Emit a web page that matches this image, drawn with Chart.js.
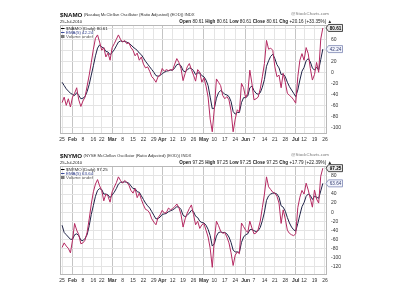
<!DOCTYPE html>
<html><head><meta charset="utf-8">
<script src="https://cdn.jsdelivr.net/npm/chart.js@4.4.0/dist/chart.umd.min.js"></script>
<style>
html,body{margin:0;padding:0;background:#fff;width:400px;height:300px;overflow:hidden}
canvas{position:absolute;left:0}
#c1{top:0}#c2{top:148px}
</style></head><body>
<canvas id="c1" width="400" height="148"></canvas>
<canvas id="c2" width="400" height="152"></canvas>
<script>
// trading-day index (0 = 25-Jan-2010) of each week label
const tickIdx    = [0,5,10,15,19,24,29,34,39,44,48,53,58,63,68,73,78,83,88,92,97,102,107,112,116,121,126];
const tickLabels = ['25','Feb','8','16','22','Mar','8','15','22','29','Apr','12','19','26','May','10','17','24','Jun','7','14','21','28','Jul','12','19','26'];
const monthLabels = ['Feb','Mar','Apr','May','Jun','Jul'];

const namoTicks = [-100,-80,-60,-40,-20,0,20,40,60,80];
const nymoTicks = [-120,-100,-80,-60,-40,-20,0,20,40,60,80];

// $NAMO daily values (one per trading day from 25-Jan-2010)
const namoDaily = [-55,-45,-60,-48,-63,-45,-38,-28,-50,-62,-52,-45,-25,-5,18,42,62,68,55,40,
45,28,35,22,45,52,60,68,60,55,58,52,54,45,40,30,35,22,28,15,
8,10,2,-8,-12,-18,-8,-5,7,2,5,3,5,4,15,25,18,7,-15,-2,
10,16,5,-5,-16,5,0,-18,-10,-25,-45,-85,-108,-65,-12,-18,-24,-42,-48,-44,
-50,-70,-108,-85,-68,-72,-20,-28,-46,-38,4,-20,-50,-48,-45,-30,-8,16,58,42,
44,40,10,-8,-5,-28,-2,-18,-38,-42,-45,-50,-56,-8,22,34,22,45,34,7,
-14,-4,18,0,60.45,80.61];
// $NAMO EMA(5)
const namoEma = [-18,-24,-30,-34,-38,-40,-42,-37,-42,-48,-47,-44,-35,-22,-5,12,30,44,50,46,
44,38,37,32,36,41,48,55,57,56,56,55,53,50,46,43,40,35,32,26,
20,15,10,5,0,-6,-7,-6,-2,0,2,3,4,4,8,14,15,12,3,1,
4,8,7,3,-4,-1,-1,-6,-8,-14,-24,-45,-66,-65,-47,-37,-33,-36,-40,-41,
-44,-53,-71,-76,-73,-73,-55,-46,-46,-43,-28,-25,-33,-38,-40,-37,-27,-13,11,21,
29,33,25,14,8,-4,-3,-8,-18,-26,-32,-38,-44,-32,-14,2,9,21,25,19,
8,4,9,4.35,23.05,42.24];

// $NYMO daily values
const nymoDaily = [-78,-68,-75,-80,-90,-62,-25,-40,-50,-70,-68,-62,-45,-15,18,45,62,72,58,48,
25,40,35,22,45,55,65,78,70,64,70,66,60,48,42,52,32,42,28,16,
6,4,-2,-15,-22,-28,-12,-6,4,-2,-1,9,5,8,12,18,10,-5,-33,-15,
-2,8,16,-5,-28,-20,-36,-28,-25,-40,-55,-80,-122,-60,-20,-30,-42,-47,-45,-55,
-68,-90,-118,-95,-88,-92,-24,-32,-40,-45,-20,-35,-48,-46,-38,-20,10,40,78,56,
50,44,42,35,20,-25,5,-15,-40,-47,-50,-52,-48,10,33,48,40,64,49,30,
11,49,29,20,79.46,97.25];
// $NYMO EMA(5)
const nymoEma = [-29,-45,-50,-55,-60,-60,-50,-48,-52,-62,-63,-58,-50,-30,-5,15,35,48,52,50,
40,40,38,32,38,44,52,62,66,66,67,66,64,58,52,52,45,44,36,28,
20,14,9,1,-7,-15,-14,-11,-5,-4,-3,1,3,5,8,12,11,6,-7,-10,
-7,-2,4,1,-9,-12,-20,-23,-24,-29,-38,-52,-75,-70,-53,-45,-44,-45,-45,-48,
-55,-67,-84,-88,-88,-89,-67,-55,-50,-48,-39,-38,-41,-43,-41,-34,-19,0,26,36,
40,42,42,40,33,14,11,2,-12,-24,-33,-39,-42,-25,-6,12,21,35,40,37,
28,35,33,30.53,46.84,63.64];

const RAW_COLOR = '#b52a62';
const MA_COLOR = '#1f2347';
const FONT = '"Liberation Sans", Arial, sans-serif';

function headerPlugin(cfg){
  return {
    id:'hdr'+cfg.id,
    beforeDatasetsDraw(chart){
      const ctx=chart.ctx, ca=chart.chartArea;
      ctx.save();
      ctx.strokeStyle='#b8b8b8'; ctx.lineWidth=1;
      ctx.strokeRect(ca.left+0.5, ca.top+0.5, ca.right-ca.left-1, ca.bottom-ca.top-1);
      ctx.restore();
    },
    afterDraw(chart){
      const ctx=chart.ctx, ca=chart.chartArea, ys=chart.scales.y;
      ctx.save();
      ctx.textBaseline='middle';
      // title
      let y=ca.top-10;
      ctx.fillStyle='#111'; ctx.textAlign='left';
      ctx.font='bold 6.2px '+FONT;
      ctx.fillText(cfg.symbol, 60, y);
      let w=ctx.measureText(cfg.symbol).width;
      ctx.font='4.2px '+FONT; ctx.fillStyle='#333';
      ctx.fillText(cfg.name, 60+w+1.5, y+0.3);
      ctx.font='4.4px '+FONT; ctx.fillStyle='#777'; ctx.textAlign='right';
      ctx.fillText('@StockCharts.com', 329, y-1);
      // date + OHLC
      y=ca.top-3.5;
      ctx.textAlign='left'; ctx.fillStyle='#222'; ctx.font='4.2px '+FONT;
      ctx.fillText(cfg.date, 60, y);
      const segs=[];
      cfg.ohlc.forEach(p=>{segs.push([p[0]+' ','bold']);segs.push([p[1]+' ','normal']);});
      segs.push(['\u25B2','normal']);
      let tot=0;
      segs.forEach(s=>{ctx.font=s[1]+' 4.6px '+FONT; tot+=ctx.measureText(s[0]).width;});
      let x=332-tot;
      segs.forEach(s=>{ctx.font=s[1]+' 4.6px '+FONT; ctx.fillText(s[0],x,y); x+=ctx.measureText(s[0]).width;});
      // legend
      const lx=61;
      ctx.lineWidth=1;
      ctx.strokeStyle='#000'; ctx.beginPath(); ctx.moveTo(lx,ca.top+3.5); ctx.lineTo(lx+3.5,ca.top+3.5); ctx.stroke();
      ctx.fillStyle='#222'; ctx.font='4.4px '+FONT;
      ctx.fillText(cfg.rawLabel+' '+cfg.raw[cfg.raw.length-1].toFixed(2), lx+5, ca.top+3.5);
      ctx.strokeStyle='#3a4a9a'; ctx.beginPath(); ctx.moveTo(lx,ca.top+7.5); ctx.lineTo(lx+3.5,ca.top+7.5); ctx.stroke();
      ctx.fillStyle='#2a3a8a';
      ctx.fillText(cfg.maLabel+' '+cfg.ma[cfg.ma.length-1].toFixed(2), lx+5, ca.top+7.5);
      ctx.fillStyle='#777'; ctx.fillRect(lx, ca.top+10, 3.5, 3);
      ctx.fillStyle='#555';
      ctx.fillText('Volume undef', lx+5, ca.top+11.5);
      // value tags
      const tag=(val,fill,stroke,col,weight)=>{
        const py=ys.getPixelForValue(val);
        ctx.beginPath();
        ctx.moveTo(326,py); ctx.lineTo(328.5,py-3.5); ctx.lineTo(342.5,py-3.5);
        ctx.lineTo(342.5,py+3.5); ctx.lineTo(328.5,py+3.5); ctx.closePath();
        ctx.fillStyle=fill; ctx.fill(); ctx.strokeStyle=stroke; ctx.lineWidth=0.8; ctx.stroke();
        ctx.fillStyle=col; ctx.font=weight+' 4.6px '+FONT; ctx.textAlign='center';
        ctx.fillText(val.toFixed(2), 335.5, py+0.3);
        ctx.textAlign='left';
      };
      tag(cfg.ma[cfg.ma.length-1], '#f3f5fc', '#7d88b5', '#3a4478', 'normal');
      tag(cfg.raw[cfg.raw.length-1], '#e9e9e9', '#222', '#000', 'bold');
      ctx.restore();
    }
  };
}

function makeChart(cfg){
  const lastR=cfg.raw[cfg.raw.length-1], lastM=cfg.ma[cfg.ma.length-1];
  return new Chart(document.getElementById(cfg.id), {
    type:'line',
    data:{datasets:[
      {label:cfg.maLabel, data:cfg.ma.map((v,i)=>({x:i,y:v})), borderColor:MA_COLOR, borderWidth:1, pointRadius:0, tension:0, order:2},
      {label:cfg.rawLabel, data:cfg.raw.map((v,i)=>({x:i,y:v})), borderColor:RAW_COLOR, borderWidth:1, pointRadius:0, tension:0, order:1}
    ]},
    options:{
      responsive:false, animation:false, devicePixelRatio:1,
      layout:{padding:{left:60, top:cfg.padTop, right:0, bottom:0}},
      plugins:{legend:{display:false}, tooltip:{enabled:false}, title:{display:false}},
      scales:{
        x:{type:'linear', min:-1, max:127,
          afterBuildTicks:s=>{s.ticks=tickIdx.map(v=>({value:v}));},
          afterFit:s=>{s.height=cfg.xAxisH;},
          grid:{drawTicks:false, color:c=>{const i=tickIdx.indexOf(c.tick&&c.tick.value);return (i>=0&&monthLabels.includes(tickLabels[i]))?'#c4c4c4':'#e4e4e4';}},
          border:{display:false},
          ticks:{autoSkip:false, maxRotation:0, minRotation:0, padding:3, color:'#333',
            font:c=>{const i=tickIdx.indexOf(c.tick&&c.tick.value);return {family:FONT,size:5,weight:(i>=0&&monthLabels.includes(tickLabels[i]))?'bold':'normal'};},
            callback:v=>{const i=tickIdx.indexOf(v);return i>=0?tickLabels[i]:'';}}
        },
        y:{position:'right', min:cfg.yMin, max:cfg.yMax,
          afterBuildTicks:s=>{s.ticks=cfg.yTicks.map(v=>({value:v}));},
          afterFit:s=>{s.width=73;},
          grid:{drawTicks:false, color:'#e4e4e4'},
          border:{display:false},
          ticks:{padding:4, color:'#333', font:{family:FONT,size:5},
            callback:v=>(Math.abs(v-lastR)<12||Math.abs(v-lastM)<12)?'':String(v)}
        }
      }
    },
    plugins:[headerPlugin(cfg)]
  });
}

makeChart({id:'c1', symbol:'$NAMO', name:'(Nasdaq McClellan Oscillator (Ratio Adjusted) (EOD)) INDX',
  date:'25-Jul-2010', ohlc:[['Open','80.61'],['High','80.61'],['Low','80.61'],['Close','80.61'],['Chg','+20.16 (+33.35%)']],
  rawLabel:'$NAMO (Daily)', maLabel:'EMA(5)', raw:namoDaily, ma:namoEma,
  yMin:-112, yMax:86, yTicks:namoTicks, padTop:25, xAxisH:14});

makeChart({id:'c2', symbol:'$NYMO', name:'(NYSE McClellan Oscillator (Ratio Adjusted) (EOD)) INDX',
  date:'25-Jul-2010', ohlc:[['Open','97.25'],['High','97.25'],['Low','97.25'],['Close','97.25'],['Chg','+17.79 (+22.39%)']],
  rawLabel:'$NYMO (Daily)', maLabel:'EMA(5)', raw:nymoDaily, ma:nymoEma,
  yMin:-139, yMax:102, yTicks:nymoTicks, padTop:18, xAxisH:25});
</script>
</body></html>
